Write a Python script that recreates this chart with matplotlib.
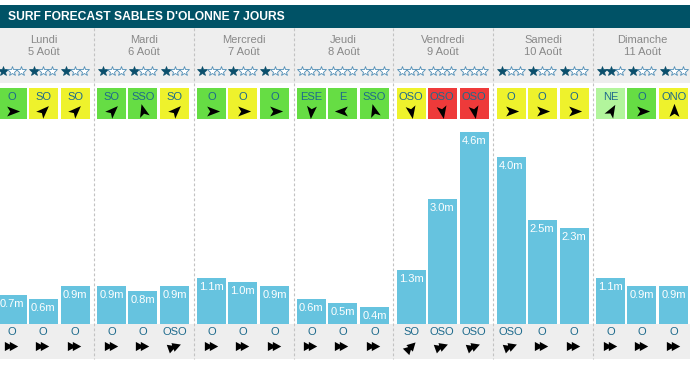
import matplotlib.pyplot as plt
from matplotlib.path import Path
from matplotlib.markers import MarkerStyle
from matplotlib.transforms import Affine2D
from matplotlib.patches import Rectangle

plt.rcParams['font.family'] = ['Liberation Sans', 'DejaVu Sans']

titre = "SURF FORECAST SABLES D'OLONNE 7 JOURS"
jours = ['Lundi', 'Mardi', 'Mercredi', 'Jeudi', 'Vendredi', 'Samedi', 'Dimanche']
dates = ['5 Août', '6 Août', '7 Août', '8 Août', '9 Août', '10 Août', '11 Août']

# 3 creneaux par jour
etoiles = [1, 1, 1, 1, 1, 1, 1, 1, 1, 0, 0, 0, 0, 0, 0, 1, 1, 1, 2, 1, 1]
vent_dir = ['O', 'SO', 'SO', 'SO', 'SSO', 'SO', 'O', 'O', 'O', 'ESE', 'E', 'SSO',
            'OSO', 'OSO', 'OSO', 'O', 'O', 'O', 'NE', 'O', 'ONO']
vent_angle = [0, 45, 45, 45, 105, 45, 0, 0, 0, -95, 180, 105,
              -80, -80, -80, 0, 0, 0, 60, 0, 90]
vent_force = ['vert', 'jaune', 'jaune', 'vert', 'vert', 'jaune', 'vert', 'jaune', 'vert',
              'vert', 'vert', 'vert', 'jaune', 'rouge', 'rouge', 'jaune', 'jaune', 'jaune',
              'clair', 'vert', 'jaune']
hauteurs = [0.7, 0.6, 0.9, 0.9, 0.8, 0.9, 1.1, 1.0, 0.9, 0.6, 0.5, 0.4,
            1.3, 3.0, 4.6, 4.0, 2.5, 2.3, 1.1, 0.9, 0.9]
houle_dir = ['O', 'O', 'O', 'O', 'O', 'OSO', 'O', 'O', 'O', 'O', 'O', 'O',
             'SO', 'OSO', 'OSO', 'OSO', 'O', 'O', 'O', 'O', 'O']
houle_angle = [0, 0, 0, 0, 0, 20, 0, 0, 0, 0, 0, 0,
               45, 20, 20, 20, 0, 0, 0, 0, 0]

couleurs = {'vert': '#66dd44', 'jaune': '#eef22c', 'rouge': '#ee3a3a', 'clair': '#b2f59c'}
bleu_barre = '#66c3df'
teal = '#005266'
gris = '#eeeeee'
texte_dir = '#1d6a8c'

# formes des fleches
fleche = Path([(1, 0), (-0.7, 0.65), (-0.3, 0), (-0.7, -0.65), (1, 0)],
              [Path.MOVETO, Path.LINETO, Path.LINETO, Path.LINETO, Path.CLOSEPOLY])
double = Path([(-1, -0.6), (0.1, 0), (-1, 0.6), (-1, -0.6),
               (-0.35, -0.6), (0.75, 0), (-0.35, 0.6), (-0.35, -0.6)],
              [Path.MOVETO, Path.LINETO, Path.LINETO, Path.CLOSEPOLY] * 2)

def marqueur(p, a):
    return MarkerStyle(p, transform=Affine2D().rotate_deg(a))

fig = plt.figure(figsize=(6.97, 3.65), dpi=100)
bg = fig.add_axes([0, 0, 1, 1])
bg.set_xlim(0, 697)
bg.set_ylim(365, 0)
bg.axis('off')

jour_w = 99.8
offs = [-32, -1, 31]
xs = [44 + jour_w * (i // 3) + offs[i % 3] for i in range(21)]

# fonds
bg.add_patch(Rectangle((0, 5), 690, 23.3, color=teal, lw=0))
bg.add_patch(Rectangle((0, 28.3), 690, 55, color=gris, lw=0))
bg.add_patch(Rectangle((0, 324), 690, 35, color=gris, lw=0))
bg.text(8, 16.5, titre, color='white', fontsize=8.7, fontweight='bold', va='center', ha='left')

for d in range(7):
    cx = 44 + jour_w * d
    bg.text(cx, 40, jours[d], color='#888888', fontsize=8, ha='center', va='center')
    bg.text(cx, 51.7, dates[d], color='#888888', fontsize=8, ha='center', va='center')
    if d < 6:
        xd = cx + jour_w / 2
        bg.plot([xd, xd], [28.3, 359], color='#c2c2c2', lw=0.8, ls=(0, (2.5, 2)))

for i, x in enumerate(xs):
    # etoiles
    for k, dx in enumerate([-9.2, 0, 9.2]):
        if k < etoiles[i]:
            bg.plot(x + dx, 71, marker='*', ms=7.5, mfc='#0b4f6c', mec='#0b4f6c', mew=0.5)
        else:
            bg.plot(x + dx, 71, marker='*', ms=7.5, mfc='white', mec='#4f8db5', mew=0.6)
    # vent
    bg.add_patch(Rectangle((x - 14.5, 88.3), 29, 31, color=couleurs[vent_force[i]], lw=0))
    bg.text(x, 97.5, vent_dir[i], color=texte_dir, fontsize=8, ha='center', va='center')
    bg.plot(x, 110.5, marker=marqueur(fleche, vent_angle[i]), ms=11, color='black', mew=0)
    # houle
    bg.text(x, 332, houle_dir[i], color=texte_dir, fontsize=8, ha='center', va='center')
    bg.plot(x, 346, marker=marqueur(double, houle_angle[i]), ms=11, color='black', mew=0)

# barres des hauteurs de vagues
ax = fig.add_axes([0, 41 / 365, 1, 204 / 365])
ax.set_xlim(0, 697)
ax.set_ylim(0, 204 / 41.75)
ax.axis('off')
ax.patch.set_visible(False)
ax.bar(xs, hauteurs, width=29, color=bleu_barre)
for x, h in zip(xs, hauteurs):
    ax.annotate(f'{h:.1f}m', (x, h), xytext=(0, -6.5), textcoords='offset points',
                ha='center', va='center', color='white', fontsize=8)

fig.savefig('out.png', dpi=100)
